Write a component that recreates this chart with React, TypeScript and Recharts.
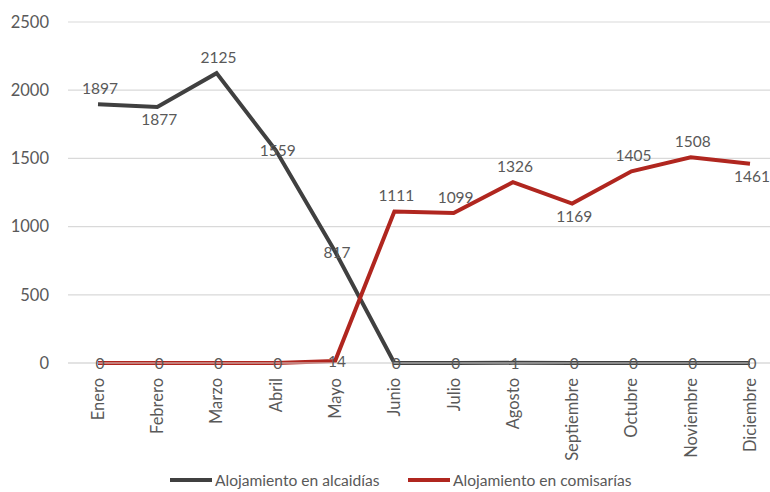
import React from 'react';
import { LineChart, Line, XAxis, YAxis, CartesianGrid, Legend, LabelList } from 'recharts';

const months = ['Enero', 'Febrero', 'Marzo', 'Abril', 'Mayo', 'Junio', 'Julio', 'Agosto', 'Septiembre', 'Octubre', 'Noviembre', 'Diciembre'];
const alcaidias = [1897, 1877, 2125, 1559, 817, 0, 0, 1, 0, 0, 0, 0];
const comisarias = [0, 0, 0, 0, 14, 1111, 1099, 1326, 1169, 1405, 1508, 1461];
const alcaidiasPos = ['above', 'below', 'above', 'center', 'center', 'center', 'center', 'center', 'center', 'center', 'center', 'center'];
const comisariasPos = ['center', 'center', 'center', 'center', 'center', 'above', 'above', 'above', 'below', 'above', 'above', 'below'];
const yTicks = [0, 500, 1000, 1500, 2000, 2500];

const seriesNames = ['Alojamiento en alcaidías', 'Alojamiento en comisarías'];
const colors = ['#404040', '#B0261F'];

const data = months.map((m, i) => ({ month: m, alc: alcaidias[i], com: comisarias[i] }));

const FONT = 'Lato, "Open Sans", sans-serif';
const TEXT = '#595959';

const makeLabel = (pos: string[]) => (props: any) => {
  const { x, y, value, index } = props;
  const p = pos[index];
  const dy = p === 'above' ? -16 : p === 'below' ? 12 : 0;
  return (
    <text x={x + 2} y={y + dy} textAnchor="middle" dominantBaseline="central" fill={TEXT} fontSize={15.5} fontFamily={FONT}>
      {value}
    </text>
  );
};

const XTick = (props: any) => {
  const { x, y, payload } = props;
  const ty = y + 15;
  return (
    <text x={x} y={ty} transform={`rotate(-90, ${x}, ${ty})`} textAnchor="end" dy="0.36em" fill={TEXT} fontSize={16.5} fontFamily={FONT}>
      {payload.value}
    </text>
  );
};

const LegendContent = () => (
  <div style={{ position: 'relative', width: 770, height: 24, fontFamily: FONT, fontSize: 15.6, color: TEXT }}>
    {seriesNames.map((n, i) => (
      <div key={n} style={{ position: 'absolute', left: i === 0 ? 170 : 408, top: 0, display: 'flex', alignItems: 'center', whiteSpace: 'nowrap' }}>
        <span style={{ display: 'inline-block', width: 42, height: 4, background: colors[i], marginRight: 3 }} />
        <span>{n}</span>
      </div>
    ))}
  </div>
);

export default function App() {
  return (
    <div style={{ position: 'absolute', left: 0, top: 0, width: 770, height: 492, overflow: 'hidden', background: '#fff' }}>
      <LineChart width={780} height={492} data={data} margin={{ top: 22, right: 0, bottom: 0, left: 0 }}>
        <CartesianGrid vertical={false} stroke="#d9d9d9" strokeWidth={1.2} />
        <XAxis dataKey="month" height={129} tick={<XTick />} tickLine={false} axisLine={{ stroke: '#d9d9d9', strokeWidth: 1.2 }} tickSize={0} tickMargin={0} interval={0} padding={{ left: 30, right: 30 }} />
        <YAxis width={68} domain={[0, 2500]} ticks={yTicks} tickLine={false} axisLine={false} tickSize={0} tickMargin={19}
          tick={{ fill: TEXT, fontSize: 16.5, fontFamily: FONT }} />
        <Line dataKey="alc" name={seriesNames[0]} stroke={colors[0]} strokeWidth={4} dot={false} type="linear" isAnimationActive={false}>
          <LabelList dataKey="alc" content={makeLabel(alcaidiasPos)} />
        </Line>
        <Line dataKey="com" name={seriesNames[1]} stroke={colors[1]} strokeWidth={4} dot={false} type="linear" isAnimationActive={false}>
          <LabelList dataKey="com" content={makeLabel(comisariasPos)} />
        </Line>
        <Legend layout="vertical" align="center" verticalAlign="middle" content={<LegendContent />}
          wrapperStyle={{ position: 'absolute', top: 471, left: 0, width: 770, height: 24 }} />
      </LineChart>
    </div>
  );
}
